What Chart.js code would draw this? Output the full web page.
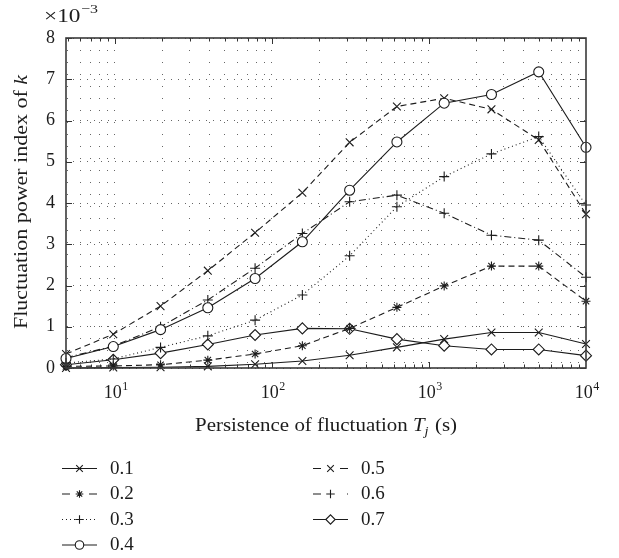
<!DOCTYPE html>
<html><head><meta charset="utf-8">
<script src="https://cdn.jsdelivr.net/npm/chart.js@4"></script>
<style>html,body{margin:0;padding:0;background:#fff}canvas{display:block}</style>
</head><body>
<canvas id="c" width="619" height="558"></canvas>
<script>
// ---- data (values in units of 10^-3) ----
const persistence = [4.8828125, 9.765625, 19.53125, 39.0625, 78.125, 156.25, 312.5, 625, 1250, 2500, 5000, 10000];
const seriesLabels = ['0.1', '0.2', '0.3', '0.4', '0.5', '0.6', '0.7'];
const s01 = [0.00, 0.01, 0.02, 0.04, 0.09, 0.17, 0.31, 0.50, 0.70, 0.86, 0.86, 0.58];
const s02 = [0.04, 0.05, 0.08, 0.19, 0.34, 0.54, 0.96, 1.47, 1.99, 2.47, 2.47, 1.62];
const s03 = [0.12, 0.22, 0.50, 0.78, 1.16, 1.77, 2.72, 3.91, 4.64, 5.19, 5.61, 3.95];
const s04 = [0.23, 0.52, 0.93, 1.46, 2.17, 3.06, 4.31, 5.48, 6.42, 6.63, 7.18, 5.35];
const s05 = [0.34, 0.82, 1.50, 2.36, 3.28, 4.25, 5.47, 6.34, 6.54, 6.27, 5.53, 3.73];
const s06 = [0.25, 0.53, 1.00, 1.65, 2.42, 3.26, 4.03, 4.19, 3.75, 3.22, 3.10, 2.20];
const s07 = [0.08, 0.20, 0.36, 0.57, 0.80, 0.96, 0.95, 0.70, 0.54, 0.45, 0.45, 0.30];
const seriesValues = [s01, s02, s03, s04, s05, s06, s07];
const yTickValues = [0, 1, 2, 3, 4, 5, 6, 7, 8];
const xTickBase = '10';
const xTickExponents = ['1', '2', '3', '4'];
const yScaleBase = '×10';
const yScaleExponent = '−3';
const xTitleMain = 'Persistence of fluctuation ';
const xTitleVar = 'T';
const xTitleSub = 'j';
const xTitleEnd = ' (s)';
const yTitleMain = 'Fluctuation power index of ';
const yTitleVar = 'k';

// ---- styles ----
const SERIF = '"Liberation Serif", "Times New Roman", serif';
const INK = '#1c1c1c';
const styles = [
  {dash: [],           point: 'crossRot', r: 5.5, fill: INK,    lg: [35]},
  {dash: [6, 4],       point: 'star',     r: 4.5, fill: INK,    lg: [8, 19]},
  {dash: [1, 3],       point: 'cross',    r: 5,   fill: INK,    lg: [1, 3]},
  {dash: [],           point: 'circle',   r: 5,   fill: '#fff', lg: [35]},
  {dash: [6, 4],       point: 'crossRot', r: 5.5, fill: INK,    lg: [8, 19]},
  {dash: [7, 3, 1, 3], point: 'cross',    r: 5,   fill: INK,    lg: [8, 26, 1, 10]},
  {dash: [],           point: 'rectRot',  r: 5.5, fill: '#fff', lg: [35]}
];

const datasets = seriesLabels.map((lab, i) => ({
  label: lab,
  data: persistence.map((x, j) => ({x: x, y: seriesValues[i][j]})),
  borderColor: INK,
  borderWidth: 1.1,
  borderDash: styles[i].dash,
  pointStyle: styles[i].point,
  pointRadius: styles[i].r,
  pointHoverRadius: styles[i].r,
  pointBorderWidth: 1.1,
  pointBorderColor: INK,
  pointBackgroundColor: styles[i].fill,
  fill: false,
  clip: false,
  tension: 0
}));

function isPow10(v) { const l = Math.log10(v); return Math.abs(l - Math.round(l)) < 1e-9; }

function drawMarker(ctx, st, x, y, r) {
  ctx.save();
  ctx.setLineDash([]);
  ctx.lineWidth = 1.1;
  ctx.strokeStyle = INK;
  ctx.fillStyle = st.fill;
  if (Chart.helpers && Chart.helpers.drawPoint) {
    Chart.helpers.drawPoint(ctx, {pointStyle: st.point, radius: r, rotation: 0, borderWidth: 1.1}, x, y);
  }
  ctx.restore();
}

// draw a run of text parts [text, font, dy, extraGap] centred on 0, optionally stretched to targetWidth
function drawParts(ctx, parts, targetWidth) {
  let total = 0;
  const ws = parts.map(p => { ctx.font = p[1]; const w = ctx.measureText(p[0]).width + (p[3] || 0); total += w; return w; });
  const sx = targetWidth ? targetWidth / total : 1;
  ctx.save();
  ctx.scale(sx, 1);
  let x = -total / 2;
  parts.forEach((p, i) => { ctx.font = p[1]; ctx.fillText(p[0], x, p[2]); x += ws[i]; });
  ctx.restore();
}

const decor = {
  id: 'decor',
  afterDatasetsDraw(chart) {
    const ctx = chart.ctx;
    const a = chart.chartArea;
    const xs = chart.scales.x, ys = chart.scales.y;
    ctx.save();
    ctx.strokeStyle = '#333';
    ctx.lineWidth = 1;
    ctx.setLineDash([]);
    xs.ticks.forEach(t => {
      const px = Math.round(xs.getPixelForValue(t.value)) + 0.5;
      const len = isPow10(t.value) ? 6 : 3.5;
      ctx.beginPath();
      ctx.moveTo(px, a.bottom); ctx.lineTo(px, a.bottom - len);
      ctx.moveTo(px, a.top); ctx.lineTo(px, a.top + len);
      ctx.stroke();
    });
    yTickValues.forEach(v => {
      const py = Math.round(ys.getPixelForValue(v)) + 0.5;
      ctx.beginPath();
      ctx.moveTo(a.left, py); ctx.lineTo(a.left + 6, py);
      ctx.moveTo(a.right, py); ctx.lineTo(a.right - 6, py);
      ctx.stroke();
    });
    ctx.strokeStyle = '#3a3a3a';
    ctx.lineWidth = 1.6;
    ctx.strokeRect(a.left, a.top, a.right - a.left, a.bottom - a.top);
    ctx.restore();
  },
  afterDraw(chart) {
    const ctx = chart.ctx;
    const a = chart.chartArea;
    const xs = chart.scales.x;
    ctx.save();
    ctx.fillStyle = INK;
    ctx.textBaseline = 'alphabetic';
    ctx.textAlign = 'left';
    // x tick labels 10^n
    xTickExponents.forEach(e => {
      const v = Math.pow(10, Number(e));
      const px = xs.getPixelForValue(v);
      ctx.save();
      ctx.translate(px + 1, 0);
      drawParts(ctx, [[xTickBase, '18px ' + SERIF, 398, 0.5], [e, '12px ' + SERIF, 390]], 0);
      ctx.restore();
    });
    // x title
    ctx.save();
    ctx.translate((a.left + a.right) / 2, 0);
    drawParts(ctx, [
      [xTitleMain, '19px ' + SERIF, 431],
      [xTitleVar, 'italic 19px ' + SERIF, 431],
      [xTitleSub, 'italic 13px ' + SERIF, 435, 1],
      [xTitleEnd, '19px ' + SERIF, 431]
    ], 262);
    ctx.restore();
    // y title (rotated)
    ctx.save();
    ctx.translate(27, (a.top + a.bottom) / 2 - 1);
    ctx.rotate(-Math.PI / 2);
    drawParts(ctx, [
      [yTitleMain, '19px ' + SERIF, 0],
      [yTitleVar, 'italic 19px ' + SERIF, 0]
    ], 254);
    ctx.restore();
    // ×10^-3
    ctx.save();
    ctx.translate(71, 0);
    drawParts(ctx, [[yScaleBase, '19px ' + SERIF, 22, 0.5], [yScaleExponent, '13px ' + SERIF, 13]], 54);
    ctx.restore();
    // legend
    chart.data.datasets.forEach((ds, i) => {
      const col = i < 4 ? 0 : 1;
      const row = i < 4 ? i : i - 4;
      const lx0 = col ? 313 : 62;
      const lx1 = lx0 + 35;
      const ly = 468 + row * 25.5;
      ctx.save();
      ctx.strokeStyle = INK;
      ctx.lineWidth = 1.1;
      ctx.setLineDash(styles[i].lg);
      ctx.beginPath();
      ctx.moveTo(lx0, ly + 0.5); ctx.lineTo(lx1, ly + 0.5);
      ctx.stroke();
      ctx.restore();
      drawMarker(ctx, styles[i], (lx0 + lx1) / 2, ly + 0.5, styles[i].r * 0.85);
      ctx.fillStyle = INK;
      ctx.font = '19px ' + SERIF;
      ctx.textAlign = 'left';
      ctx.textBaseline = 'middle';
      ctx.fillText(ds.label, col ? 361 : 110, ly + 1);
    });
    ctx.restore();
  }
};

new Chart(document.getElementById('c'), {
  type: 'line',
  data: {datasets: datasets},
  plugins: [decor],
  options: {
    responsive: false,
    devicePixelRatio: 1,
    animation: false,
    events: [],
    layout: {padding: {top: 38, right: 33, left: 0, bottom: 0}},
    plugins: {legend: {display: false}, tooltip: {enabled: false}, title: {display: false}},
    scales: {
      x: {
        type: 'logarithmic',
        min: persistence[0],
        max: persistence[persistence.length - 1],
        afterBuildTicks(scale) {
          const t = [];
          for (let d = 0; d <= 3; d++) {
            for (let m = 1; m <= 9; m++) {
              const v = m * Math.pow(10, d);
              if (v > scale.min && v < scale.max) t.push({value: v});
            }
          }
          scale.ticks = t;
        },
        afterFit(scale) { scale.height = 190; },
        ticks: {display: false, autoSkip: false},
        grid: {color: '#666', lineWidth: 1, drawTicks: false},
        border: {display: false, dash: [1, 11]}
      },
      y: {
        type: 'linear',
        min: 0,
        max: 8,
        afterBuildTicks(scale) { scale.ticks = yTickValues.map(v => ({value: v})); },
        afterFit(scale) { scale.width = 66; },
        ticks: {padding: 11, color: INK, font: {family: SERIF, size: 18}, callback: v => String(v)},
        grid: {color: '#666', lineWidth: 1, drawTicks: false},
        border: {display: false, dash: [1, 6]}
      }
    }
  }
});
</script>
</body></html>
